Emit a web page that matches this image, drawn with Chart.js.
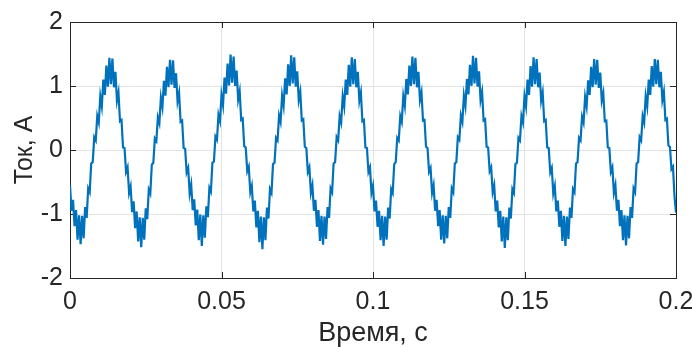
<!DOCTYPE html>
<html>
<head>
<meta charset="utf-8">
<script src="https://cdn.jsdelivr.net/npm/chart.js@4/dist/chart.umd.min.js"></script>
<style>
  html, body { margin: 0; padding: 0; background: #ffffff; }
  #currentChart { display: block; }
</style>
</head>
<body>
<canvas id="currentChart" width="692" height="347"></canvas>
<script>
// ток, А — отсчеты через 0.5 мс, по одному периоду 50 Гц в строке
const startTime = 0;
const sampleStep = 0.0005;
const currentValues = [
  -0.55,-0.95,-0.78,-1.19,-0.94,-1.40,-1.02,-1.47,-1.03,-1.38,-0.89,-1.06,-0.60,-0.66,-0.21,-0.19,0.20,0.15,0.53,0.43,0.84,0.68,1.10,0.86,1.32,0.99,1.44,1.03,1.43,0.98,1.22,0.77,0.90,0.45,0.47,0.04,0.03,-0.34,-0.27,-0.67,
  -0.57,-0.97,-0.80,-1.22,-0.96,-1.43,-1.05,-1.52,-1.06,-1.40,-0.91,-1.08,-0.62,-0.68,-0.23,-0.20,0.18,0.14,0.51,0.42,0.82,0.67,1.08,0.85,1.30,0.98,1.41,1.02,1.40,0.97,1.20,0.76,0.89,0.44,0.46,0.03,0.02,-0.35,-0.28,-0.68,
  -0.54,-0.94,-0.77,-1.18,-0.93,-1.41,-1.01,-1.50,-1.02,-1.37,-0.88,-1.05,-0.59,-0.65,-0.20,-0.18,0.21,0.16,0.55,0.45,0.86,0.70,1.13,0.88,1.35,1.01,1.49,1.05,1.46,1.00,1.24,0.79,0.92,0.47,0.49,0.06,0.04,-0.33,-0.26,-0.66,
  -0.56,-0.96,-0.79,-1.21,-0.95,-1.44,-1.04,-1.55,-1.05,-1.41,-0.90,-1.07,-0.61,-0.67,-0.22,-0.20,0.19,0.15,0.54,0.44,0.85,0.69,1.12,0.87,1.34,1.00,1.48,1.04,1.45,0.99,1.23,0.78,0.91,0.46,0.48,0.05,0.03,-0.34,-0.27,-0.67,
  -0.55,-0.95,-0.78,-1.20,-0.94,-1.42,-1.03,-1.48,-1.04,-1.39,-0.89,-1.06,-0.60,-0.66,-0.21,-0.19,0.20,0.15,0.53,0.43,0.84,0.68,1.10,0.86,1.33,0.99,1.45,1.03,1.42,0.98,1.22,0.77,0.90,0.45,0.47,0.04,0.03,-0.34,-0.27,-0.67,
  -0.56,-0.96,-0.79,-1.20,-0.95,-1.41,-1.03,-1.50,-1.04,-1.40,-0.90,-1.07,-0.61,-0.67,-0.22,-0.19,0.19,0.15,0.53,0.44,0.84,0.69,1.11,0.87,1.32,1.00,1.46,1.03,1.44,0.98,1.22,0.78,0.90,0.46,0.47,0.05,0.03,-0.34,-0.28,-0.67,
  -0.55,-0.95,-0.78,-1.19,-0.94,-1.40,-1.02,-1.46,-1.03,-1.38,-0.89,-1.06,-0.60,-0.66,-0.21,-0.19,0.20,0.16,0.54,0.44,0.85,0.69,1.11,0.87,1.33,1.00,1.47,1.04,1.44,0.99,1.23,0.78,0.91,0.46,0.48,0.05,0.04,-0.33,-0.27,-0.66,
  -0.55,-0.96,-0.79,-1.21,-0.95,-1.43,-1.04,-1.53,-1.05,-1.41,-0.90,-1.07,-0.61,-0.67,-0.22,-0.20,0.19,0.15,0.53,0.43,0.84,0.68,1.10,0.86,1.31,0.99,1.45,1.03,1.42,0.98,1.21,0.77,0.90,0.45,0.47,0.04,0.03,-0.35,-0.28,-0.68,
  -0.56,-0.96,-0.79,-1.20,-0.95,-1.42,-1.03,-1.50,-1.04,-1.39,-0.90,-1.06,-0.61,-0.66,-0.21,-0.19,0.19,0.15,0.52,0.43,0.83,0.68,1.09,0.86,1.30,0.98,1.42,1.02,1.41,0.97,1.21,0.77,0.89,0.45,0.46,0.04,0.03,-0.34,-0.27,-0.67,
  -0.55,-0.95,-0.78,-1.19,-0.94,-1.41,-1.02,-1.49,-1.03,-1.38,-0.89,-1.06,-0.60,-0.66,-0.21,-0.19,0.20,0.15,0.53,0.43,0.84,0.68,1.10,0.86,1.31,0.99,1.42,1.03,1.41,0.98,1.22,0.78,0.91,0.47,0.49,0.07,0.05,-0.30,-0.26,-0.72,
  -0.98
];
const xTicks = [0, 0.05, 0.1, 0.15, 0.2];
const yTicks = [-2, -1, 0, 1, 2];

const axisColor = '#262626';
const tickFont = { family: 'Liberation Sans, Arial, sans-serif', size: 25 };

var points = currentValues.map((v, i) => ({ x: startTime + i * sampleStep, y: v }));

// рамка осей и короткие засечки внутрь, как в MATLAB
const boxPlugin = {
    id: 'boxPlugin',
    beforeDatasetsDraw(chart) {
        const { ctx, chartArea: a, scales } = chart;
        const len = 6;
        ctx.save();
        ctx.strokeStyle = axisColor;
        ctx.lineWidth = 1;
        ctx.beginPath();
        xTicks.forEach(t => {
            const px = Math.round(scales.x.getPixelForValue(t)) + 0.5;
            ctx.moveTo(px, a.bottom); ctx.lineTo(px, a.bottom - len);
            ctx.moveTo(px, a.top); ctx.lineTo(px, a.top + len);
        });
        yTicks.forEach(t => {
            const py = Math.round(scales.y.getPixelForValue(t)) + 0.5;
            ctx.moveTo(a.left, py); ctx.lineTo(a.left + len, py);
            ctx.moveTo(a.right, py); ctx.lineTo(a.right - len, py);
        });
        ctx.stroke();
        ctx.strokeRect(Math.round(a.left) + 0.5, Math.round(a.top) + 0.5,
            Math.round(a.right - a.left), Math.round(a.bottom - a.top));
        ctx.restore();
    }
};

var currentChart = new Chart(document.getElementById('currentChart').getContext('2d'), {
    type: 'line',
    data: {
        datasets: [{
            data: points,
            borderColor: '#0072BD',
            borderWidth: 2.2,
            pointRadius: 0,
            tension: 0,
            fill: false
        }]
    },
    options: {
        responsive: false,
        animation: false,
        layout: { padding: { top: 22, right: 16, left: 0, bottom: 0 } },
        plugins: {
            legend: { display: false },
            tooltip: { enabled: false }
        },
        scales: {
            x: {
                type: 'linear',
                min: 0,
                max: 0.2,
                afterFit: s => { s.height = 69; s.paddingLeft = 0; s.paddingRight = 0; },
                afterBuildTicks: s => { s.ticks = xTicks.map(v => ({ value: v })); },
                ticks: {
                    color: axisColor,
                    font: tickFont,
                    padding: 9,
                    maxRotation: 0,
                    autoSkip: false,
                    callback: v => String(parseFloat(v.toFixed(2)))
                },
                grid: { color: '#e3e3e3', lineWidth: 1, drawTicks: false },
                border: { display: false },
                title: {
                    display: true,
                    text: 'Время, с',
                    color: axisColor,
                    font: { family: 'Liberation Sans, Arial, sans-serif', size: 27 },
                    padding: { top: 0, bottom: -3 }
                }
            },
            y: {
                min: -2,
                max: 2,
                afterFit: s => { s.width = 70; s.paddingTop = 0; s.paddingBottom = 0; },
                afterBuildTicks: s => { s.ticks = yTicks.map(v => ({ value: v })); },
                ticks: {
                    color: axisColor,
                    font: tickFont,
                    padding: 7,
                    autoSkip: false
                },
                grid: { color: '#e3e3e3', lineWidth: 1, drawTicks: false },
                border: { display: false },
                title: {
                    display: true,
                    text: 'Ток, А',
                    color: axisColor,
                    font: tickFont,
                    padding: { top: 10, bottom: 0 }
                }
            }
        }
    },
    plugins: [boxPlugin]
});
</script>
</body>
</html>
